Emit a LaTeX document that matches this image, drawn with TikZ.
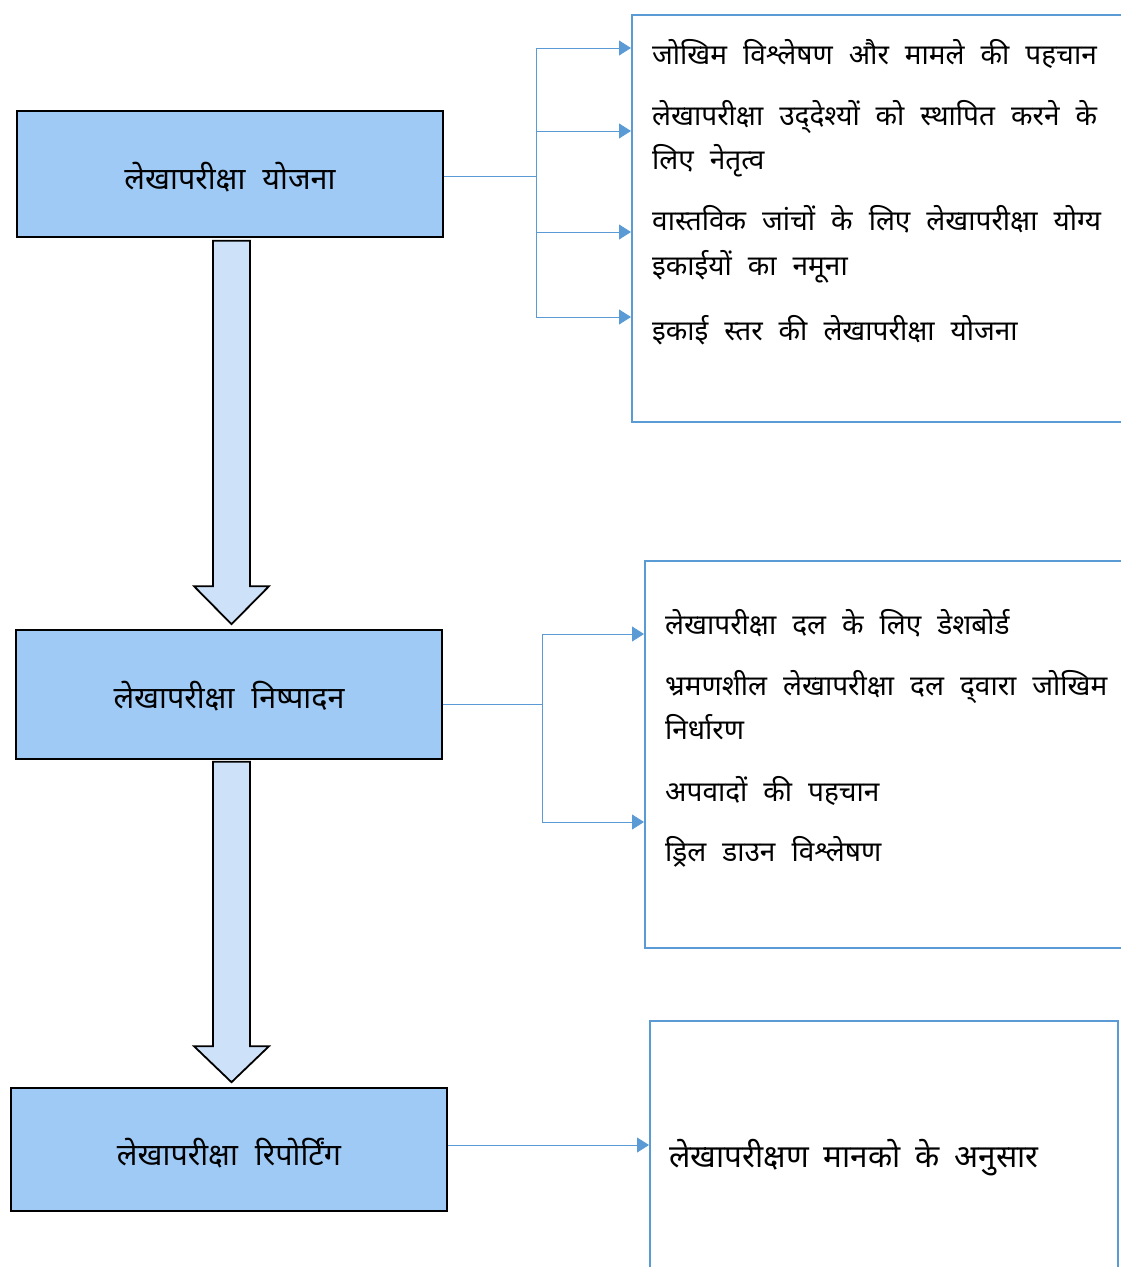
\documentclass[tikz,border=0pt]{standalone}
\usepackage{fontspec}
\newfontfamily\deva[Script=Devanagari]{Noto Sans}
\usetikzlibrary{arrows.meta,calc}
\definecolor{stagefill}{HTML}{9FCAF5}
\definecolor{flowfill}{HTML}{CDE2F9}
\definecolor{linkblue}{HTML}{5B9BD5}
% font settings with wide interword spacing
\newcommand\stagefont{\deva\fontsize{30.5}{34}\selectfont\spaceskip=17pt\relax}
\newcommand\itemfont{\deva\fontsize{28}{32}\selectfont\spaceskip=16pt\relax}
\newcommand\notefont{\deva\fontsize{31.5}{36}\selectfont\spaceskip=15pt\relax}
% shift text down while keeping its box size
\newcommand\lowered[2]{\raisebox{-#1pt}[\height][\depth]{#2}}
\begin{document}
\begin{tikzpicture}[x=1pt,y=-1pt,
  stage/.style={draw=black,line width=1.6pt,fill=stagefill,inner sep=0pt,
    font=\stagefont},
  detail/.style={draw=linkblue,line width=2.4pt,inner sep=0pt,anchor=north west},
  item/.style={anchor=base west,inner sep=0pt,font=\itemfont},
  link/.style={draw=linkblue,line width=1pt},
  tip/.style={link,-{Triangle[length=12pt,width=15pt]}},
  bigarr/.style={draw=black,line width=1.8pt,fill=flowfill,line join=miter}]
\useasboundingbox (0,0) rectangle (1120,1267);

% stages
\node[stage,minimum width=426,minimum height=126] (b1) at (230,174) {\lowered{3}{लेखापरीक्षा योजना}};
\node[stage,minimum width=426,minimum height=129] (b2) at (229,694.5) {\lowered{2}{लेखापरीक्षा निष्पादन}};
\node[stage,minimum width=436,minimum height=123] (b3) at (229,1149.5) {\lowered{4}{लेखापरीक्षा रिपोर्टिंग}};

% detail panels
\node[detail,minimum width=520,minimum height=407] (r1) at (631,14) {};
\node[detail,minimum width=500,minimum height=387] (r2) at (644,560) {};
\node[detail,minimum width=468,minimum height=280] (r3) at (649,1020) {};

% flow arrows between stages
\draw[bigarr] let \p1=(b1.south), \p2=(b2.north) in
  (\x1-17pt,\y1-3pt) -- (\x1+20pt,\y1-3pt) -- (\x1+20pt,\y2+43pt) --
  (\x1+39pt,\y2+43pt) -- (\x1+1.5pt,\y2+5pt) -- (\x1-36pt,\y2+43pt) --
  (\x1-17pt,\y2+43pt) -- cycle;
\draw[bigarr] let \p1=(b2.south), \p2=(b3.north) in
  (\x1-16pt,\y1-2pt) -- (\x1+21pt,\y1-2pt) -- (\x1+21pt,\y2+41pt) --
  (\x1+40pt,\y2+41pt) -- (\x1+2.5pt,\y2+5pt) -- (\x1-35pt,\y2+41pt) --
  (\x1-16pt,\y2+41pt) -- cycle;

% planning branches
\coordinate (j1) at (536,176);
\draw[link] (b1.east |- j1) -- (j1);
\draw[tip] (j1) |- (r1.west |- 0,48);
\draw[tip] (j1) |- (r1.west |- 0,131);
\draw[tip] (j1) |- (r1.west |- 0,232);
\draw[tip] (j1) |- (r1.west |- 0,317);

% execution branches
\coordinate (j2) at (542,704);
\draw[link] (b2.east |- j2) -- (j2);
\draw[tip] (j2) |- (r2.west |- 0,634);
\draw[tip] (j2) |- (r2.west |- 0,822);

% reporting link
\draw[tip] (b3.east |- 0,1145) -- (r3.west |- 0,1145);

% planning items
\node[item] (p1) at (652,64) {जोखिम विश्लेषण और मामले की पहचान};
\node[item] (p2) at (652,125) {लेखापरीक्षा उद्‌देश्यों को स्थापित करने के};
\node[item] (p3) at (652,169) {लिए नेतृत्व};
\node[item] (p4) at (652,230) {वास्तविक जांचों के लिए लेखापरीक्षा योग्य};
\node[item] (p5) at (652,275) {इकाईयों का नमूना};
\node[item] (p6) at (652,340) {इकाई स्तर की लेखापरीक्षा योजना};

% execution items
\node[item] (e1) at (665,634) {लेखापरीक्षा दल के लिए डेशबोर्ड};
\node[item] (e2) at (665,695) {भ्रमणशील लेखापरीक्षा दल द्‌वारा जोखिम};
\node[item] (e3) at (665,739) {निर्धारण};
\node[item] (e4) at (665,801) {अपवादों की पहचान};
\node[item] (e5) at (665,861) {ड्रिल डाउन विश्लेषण};

% reporting item
\node[item,font=\notefont] (s1) at (669,1167) {लेखापरीक्षण मानको के अनुसार};
\end{tikzpicture}
\end{document}
